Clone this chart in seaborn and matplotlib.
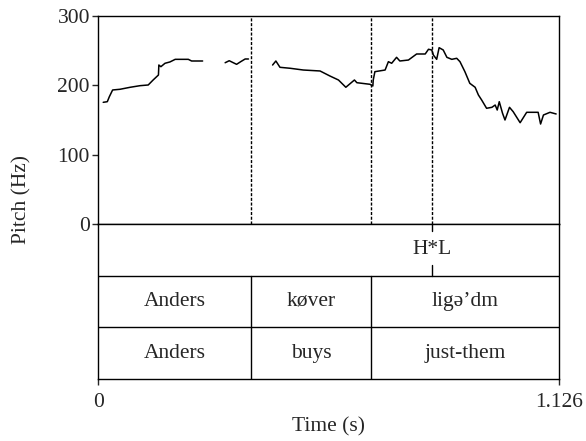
import numpy as np
import pandas as pd
import matplotlib
matplotlib.use('Agg')
import matplotlib.pyplot as plt
import seaborn as sns

# Pitch contour (voiced stretches), time in s and F0 in Hz
seg1_t = [0.012, 0.022, 0.027, 0.035, 0.053, 0.078, 0.102, 0.122, 0.134, 0.147,
          0.148, 0.153, 0.163, 0.175, 0.188, 0.220, 0.228, 0.255]
seg1_hz = [175.5, 176.4, 183.6, 193.3, 194.3, 197.2, 199.5, 200.5, 207.7, 214.9,
           229.3, 226.9, 231.8, 233.7, 237.5, 237.5, 235.1, 235.1]
seg2_t = [0.310, 0.320, 0.330, 0.338, 0.348, 0.359, 0.367]
seg2_hz = [232.6, 235.5, 232.6, 230.3, 234.1, 238.0, 238.0]
seg3_t = [0.426, 0.434, 0.444, 0.469, 0.501, 0.542, 0.566, 0.587, 0.605, 0.626,
          0.632, 0.664, 0.671, 0.672, 0.676, 0.701, 0.709, 0.717, 0.729, 0.737,
          0.758, 0.778, 0.799, 0.807, 0.815, 0.819, 0.827, 0.833, 0.843, 0.852,
          0.864, 0.876, 0.884, 0.896, 0.908, 0.921, 0.929, 0.937, 0.949, 0.962,
          0.970, 0.975, 0.980, 0.988, 0.994, 1.005, 1.014, 1.031, 1.047, 1.075,
          1.081, 1.088, 1.104, 1.119]
seg3_hz = [229.3, 235.1, 226.0, 224.6, 222.1, 220.7, 213.5, 207.7, 197.2, 207.7,
           203.8, 201.5, 199.0, 207.7, 219.7, 222.1, 234.1, 231.8, 240.4, 235.1,
           236.5, 245.2, 245.2, 252.0, 251.0, 243.7, 237.5, 254.3, 251.0, 240.4,
           237.5, 239.0, 234.1, 219.7, 202.9, 197.2, 186.1, 178.8, 166.9, 168.3,
           171.6, 164.4, 176.4, 159.7, 150.0, 168.3, 162.0, 146.1, 161.1, 161.1,
           144.2, 157.2, 161.1, 158.7]

t_max = 1.126

# TextGrid tiers
tone_times = [0.815]
tone_labels = ['H*L']
word_bounds = [0.0, 0.373, 0.667, t_max]
danish_words = ['Anders', 'køver', 'ligə’dm']
gloss_words = ['Anders', 'buys', 'just-them']

df = pd.DataFrame({
    'time': seg1_t + seg2_t + seg3_t,
    'pitch': seg1_hz + seg2_hz + seg3_hz,
    'seg': [1] * len(seg1_t) + [2] * len(seg2_t) + [3] * len(seg3_t),
})

sns.set_style('ticks')
plt.rcParams['font.family'] = 'Liberation Serif'
plt.rcParams['font.size'] = 15.5

fig = plt.figure(figsize=(5.86, 4.41), dpi=100)
W, H = 586, 441
x0, x1 = 98.3, 559
ax = fig.add_axes([x0 / W, 1 - 224 / H, (x1 - x0) / W, (224 - 16) / H])
axt = fig.add_axes([x0 / W, 1 - 379 / H, (x1 - x0) / W, (379 - 224) / H])

# pitch panel
sns.lineplot(data=df, x='time', y='pitch', units='seg', estimator=None,
             color='black', lw=1.1, ax=ax)
for b in word_bounds[1:-1] + tone_times:
    ax.axvline(b, color='black', lw=1.0, ls=(0, (2.2, 1.2)))
ax.set_xlim(0, t_max)
ax.set_ylim(0, 300)
ax.set_yticks([0, 100, 200, 300])
ax.set_xticks([])
ax.set_xlabel('')
ax.set_ylabel('')
ax.tick_params(axis='y', direction='out', length=4, width=1, pad=2)

# tiers
axt.set_xlim(0, t_max)
axt.set_ylim(3, 0)
axt.axhline(1, color='black', lw=1.0)
axt.axhline(2, color='black', lw=1.0)
for b in word_bounds[1:-1]:
    axt.plot([b, b], [1, 3], color='black', lw=1.0)
for tt, lab in zip(tone_times, tone_labels):
    axt.plot([tt, tt], [0, 0.13], color='black', lw=1.0)
    axt.plot([tt, tt], [0.8, 1], color='black', lw=1.0)
    axt.text(tt, 0.5, lab, ha='center', va='center')
for i in range(len(danish_words)):
    mid = (word_bounds[i] + word_bounds[i + 1]) / 2
    axt.text(mid, 1.5, danish_words[i], ha='center', va='center')
    axt.text(mid, 2.5, gloss_words[i], ha='center', va='center')
axt.set_yticks([])
axt.set_xticks([0, t_max])
axt.set_xticklabels(['0', '1.126'])
axt.tick_params(axis='x', direction='out', length=4, width=1, pad=6)
axt.set_xlabel('Time (s)', labelpad=4)

for a in (ax, axt):
    for s in a.spines.values():
        s.set_visible(True)
        s.set_linewidth(1.0)
        s.set_color('black')

fig.text(21.7 / W, 1 - 199 / H, 'Pitch (Hz)', rotation=90, ha='center', va='center')

fig.savefig('out.png', dpi=100)
